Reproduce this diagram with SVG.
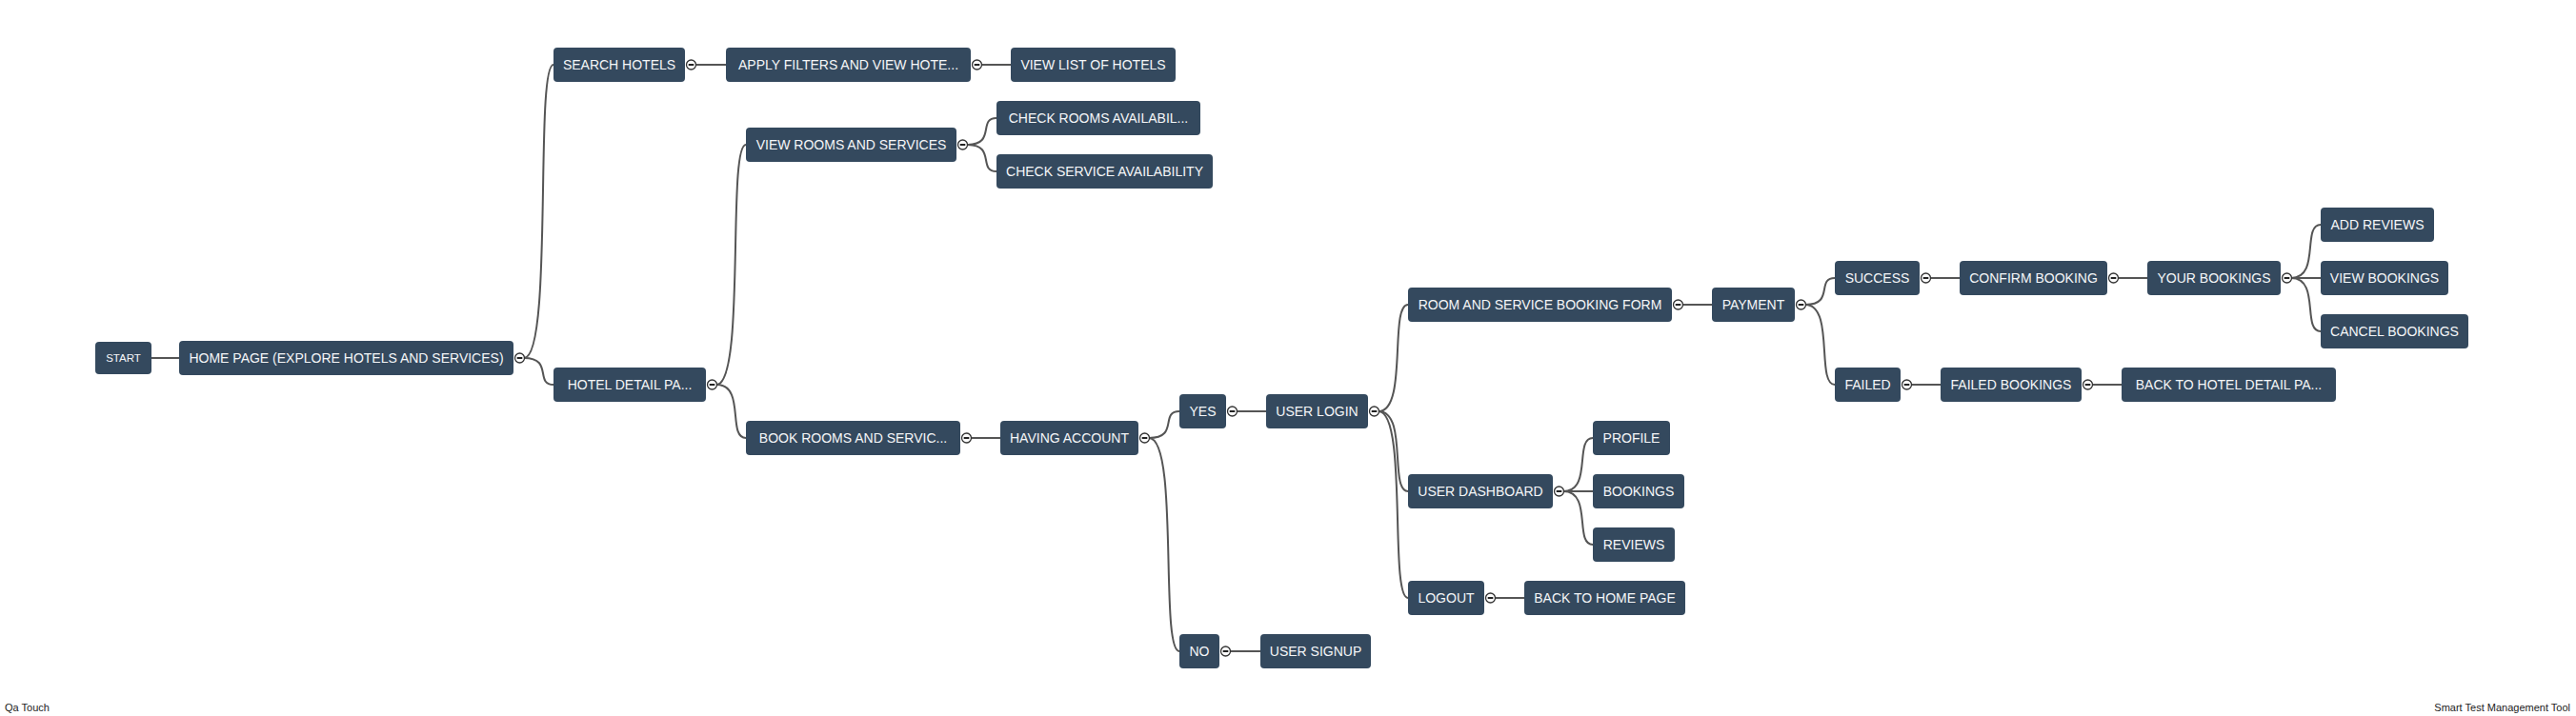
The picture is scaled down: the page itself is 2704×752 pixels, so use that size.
<svg xmlns="http://www.w3.org/2000/svg" width="2704" height="752" viewBox="0 0 2704 752">
<style>
.n rect{fill:#34495e;}
.n text{fill:#f4f6f8;font-family:"Liberation Sans",Arial,sans-serif;font-size:14px;text-anchor:middle;dominant-baseline:central;}
.c path{fill:none;stroke:#555;stroke-width:2;}
.t circle{fill:#fff;stroke:#333;stroke-width:1.3;}
.t line{stroke:#222;stroke-width:2;}
.f{font-family:"Liberation Sans",Arial,sans-serif;font-size:11px;fill:#222;}
</style>
<rect width="2704" height="752" fill="#fff"/>
<g id="connectors" class="c">
<path d="M159 376H188"/>
<path d="M550 376C581 376 561 68 581 68"/>
<path d="M550 376C581 376 561 404 581 404"/>
<path d="M730 68H762"/>
<path d="M1030 68H1061"/>
<path d="M752 404C783 404 763 152 783 152"/>
<path d="M752 404C783 404 763 460 783 460"/>
<path d="M1015 152C1046 152 1026 124 1046 124"/>
<path d="M1015 152C1046 152 1026 180 1046 180"/>
<path d="M1019 460H1050"/>
<path d="M1206 460C1238 460 1217 432 1238 432"/>
<path d="M1206 460C1238 460 1217 684 1238 684"/>
<path d="M1298 432H1329"/>
<path d="M1291 684H1323"/>
<path d="M1447 432C1478 432 1458 320 1478 320"/>
<path d="M1447 432C1478 432 1458 516 1478 516"/>
<path d="M1447 432C1478 432 1458 628 1478 628"/>
<path d="M1766 320H1797"/>
<path d="M1641 516C1672 516 1652 460 1672 460"/>
<path d="M1641 516H1672"/>
<path d="M1641 516C1672 516 1652 572 1672 572"/>
<path d="M1569 628H1600"/>
<path d="M1895 320C1926 320 1906 292 1926 292"/>
<path d="M1895 320C1926 320 1906 404 1926 404"/>
<path d="M2026 292H2057"/>
<path d="M2223 292H2254"/>
<path d="M2006 404H2037"/>
<path d="M2196 404H2227"/>
<path d="M2405 292C2436 292 2416 236 2436 236"/>
<path d="M2405 292H2436"/>
<path d="M2405 292C2436 292 2416 348 2436 348"/>
</g>
<g id="n-start" class="n"><rect x="100" y="359" width="59" height="34" rx="4"/><text x="129.5" y="376" style="font-size:11.5px">START</text></g>
<g id="n-home" class="n"><rect x="188" y="358" width="351" height="36" rx="4"/><text x="363.5" y="376">HOME PAGE (EXPLORE HOTELS AND SERVICES)</text></g>
<g id="n-search" class="n"><rect x="581" y="50" width="138" height="36" rx="4"/><text x="650" y="68">SEARCH HOTELS</text></g>
<g id="n-apply" class="n"><rect x="762" y="50" width="257" height="36" rx="4"/><text x="890.5" y="68">APPLY FILTERS AND VIEW HOTE...</text></g>
<g id="n-viewlist" class="n"><rect x="1061" y="50" width="173" height="36" rx="4"/><text x="1147.5" y="68">VIEW LIST OF HOTELS</text></g>
<g id="n-hoteldetail" class="n"><rect x="581" y="386" width="160" height="36" rx="4"/><text x="661" y="404">HOTEL DETAIL PA...</text></g>
<g id="n-viewrooms" class="n"><rect x="783" y="134" width="221" height="36" rx="4"/><text x="893.5" y="152">VIEW ROOMS AND SERVICES</text></g>
<g id="n-checkrooms" class="n"><rect x="1046" y="106" width="214" height="36" rx="4"/><text x="1153" y="124">CHECK ROOMS AVAILABIL...</text></g>
<g id="n-checkservice" class="n"><rect x="1046" y="162" width="227" height="36" rx="4"/><text x="1159.5" y="180">CHECK SERVICE AVAILABILITY</text></g>
<g id="n-bookrooms" class="n"><rect x="783" y="442" width="225" height="36" rx="4"/><text x="895.5" y="460">BOOK ROOMS AND SERVIC...</text></g>
<g id="n-having" class="n"><rect x="1050" y="442" width="145" height="36" rx="4"/><text x="1122.5" y="460">HAVING ACCOUNT</text></g>
<g id="n-yes" class="n"><rect x="1238" y="414" width="49" height="36" rx="4"/><text x="1262.5" y="432">YES</text></g>
<g id="n-no" class="n"><rect x="1238" y="666" width="42" height="36" rx="4"/><text x="1259" y="684">NO</text></g>
<g id="n-login" class="n"><rect x="1329" y="414" width="107" height="36" rx="4"/><text x="1382.5" y="432">USER LOGIN</text></g>
<g id="n-signup" class="n"><rect x="1323" y="666" width="116" height="36" rx="4"/><text x="1381" y="684">USER SIGNUP</text></g>
<g id="n-form" class="n"><rect x="1478" y="302" width="277" height="36" rx="4"/><text x="1616.5" y="320">ROOM AND SERVICE BOOKING FORM</text></g>
<g id="n-dashboard" class="n"><rect x="1478" y="498" width="152" height="36" rx="4"/><text x="1554" y="516">USER DASHBOARD</text></g>
<g id="n-logout" class="n"><rect x="1478" y="610" width="80" height="36" rx="4"/><text x="1518" y="628">LOGOUT</text></g>
<g id="n-payment" class="n"><rect x="1797" y="302" width="87" height="36" rx="4"/><text x="1840.5" y="320">PAYMENT</text></g>
<g id="n-profile" class="n"><rect x="1672" y="442" width="81" height="36" rx="4"/><text x="1712.5" y="460">PROFILE</text></g>
<g id="n-bookings" class="n"><rect x="1672" y="498" width="96" height="36" rx="4"/><text x="1720" y="516">BOOKINGS</text></g>
<g id="n-reviews" class="n"><rect x="1672" y="554" width="86" height="36" rx="4"/><text x="1715" y="572">REVIEWS</text></g>
<g id="n-backhome" class="n"><rect x="1600" y="610" width="169" height="36" rx="4"/><text x="1684.5" y="628">BACK TO HOME PAGE</text></g>
<g id="n-success" class="n"><rect x="1926" y="274" width="89" height="36" rx="4"/><text x="1970.5" y="292">SUCCESS</text></g>
<g id="n-failed" class="n"><rect x="1926" y="386" width="69" height="36" rx="4"/><text x="1960.5" y="404">FAILED</text></g>
<g id="n-confirm" class="n"><rect x="2057" y="274" width="155" height="36" rx="4"/><text x="2134.5" y="292">CONFIRM BOOKING</text></g>
<g id="n-failedbookings" class="n"><rect x="2037" y="386" width="148" height="36" rx="4"/><text x="2111" y="404">FAILED BOOKINGS</text></g>
<g id="n-yourbookings" class="n"><rect x="2254" y="274" width="140" height="36" rx="4"/><text x="2324" y="292">YOUR BOOKINGS</text></g>
<g id="n-backhotel" class="n"><rect x="2227" y="386" width="225" height="36" rx="4"/><text x="2339.5" y="404">BACK TO HOTEL DETAIL PA...</text></g>
<g id="n-addreviews" class="n"><rect x="2436" y="218" width="119" height="36" rx="4"/><text x="2495.5" y="236">ADD REVIEWS</text></g>
<g id="n-viewbookings" class="n"><rect x="2436" y="274" width="134" height="36" rx="4"/><text x="2503" y="292">VIEW BOOKINGS</text></g>
<g id="n-cancel" class="n"><rect x="2436" y="330" width="155" height="36" rx="4"/><text x="2513.5" y="348">CANCEL BOOKINGS</text></g>
<g id="toggles" class="t">
<g transform="translate(545.5 376)"><circle r="5"/><line x1="-2.8" x2="2.8"/></g>
<g transform="translate(725.5 68)"><circle r="5"/><line x1="-2.8" x2="2.8"/></g>
<g transform="translate(1025.5 68)"><circle r="5"/><line x1="-2.8" x2="2.8"/></g>
<g transform="translate(747.5 404)"><circle r="5"/><line x1="-2.8" x2="2.8"/></g>
<g transform="translate(1010.5 152)"><circle r="5"/><line x1="-2.8" x2="2.8"/></g>
<g transform="translate(1014.5 460)"><circle r="5"/><line x1="-2.8" x2="2.8"/></g>
<g transform="translate(1201.5 460)"><circle r="5"/><line x1="-2.8" x2="2.8"/></g>
<g transform="translate(1293.5 432)"><circle r="5"/><line x1="-2.8" x2="2.8"/></g>
<g transform="translate(1286.5 684)"><circle r="5"/><line x1="-2.8" x2="2.8"/></g>
<g transform="translate(1442.5 432)"><circle r="5"/><line x1="-2.8" x2="2.8"/></g>
<g transform="translate(1761.5 320)"><circle r="5"/><line x1="-2.8" x2="2.8"/></g>
<g transform="translate(1636.5 516)"><circle r="5"/><line x1="-2.8" x2="2.8"/></g>
<g transform="translate(1564.5 628)"><circle r="5"/><line x1="-2.8" x2="2.8"/></g>
<g transform="translate(1890.5 320)"><circle r="5"/><line x1="-2.8" x2="2.8"/></g>
<g transform="translate(2021.5 292)"><circle r="5"/><line x1="-2.8" x2="2.8"/></g>
<g transform="translate(2001.5 404)"><circle r="5"/><line x1="-2.8" x2="2.8"/></g>
<g transform="translate(2218.5 292)"><circle r="5"/><line x1="-2.8" x2="2.8"/></g>
<g transform="translate(2191.5 404)"><circle r="5"/><line x1="-2.8" x2="2.8"/></g>
<g transform="translate(2400.5 292)"><circle r="5"/><line x1="-2.8" x2="2.8"/></g>
</g>
<text class="f" x="5" y="747">Qa Touch</text>
<text class="f" x="2698" y="747" text-anchor="end">Smart Test Management Tool</text>
</svg>
